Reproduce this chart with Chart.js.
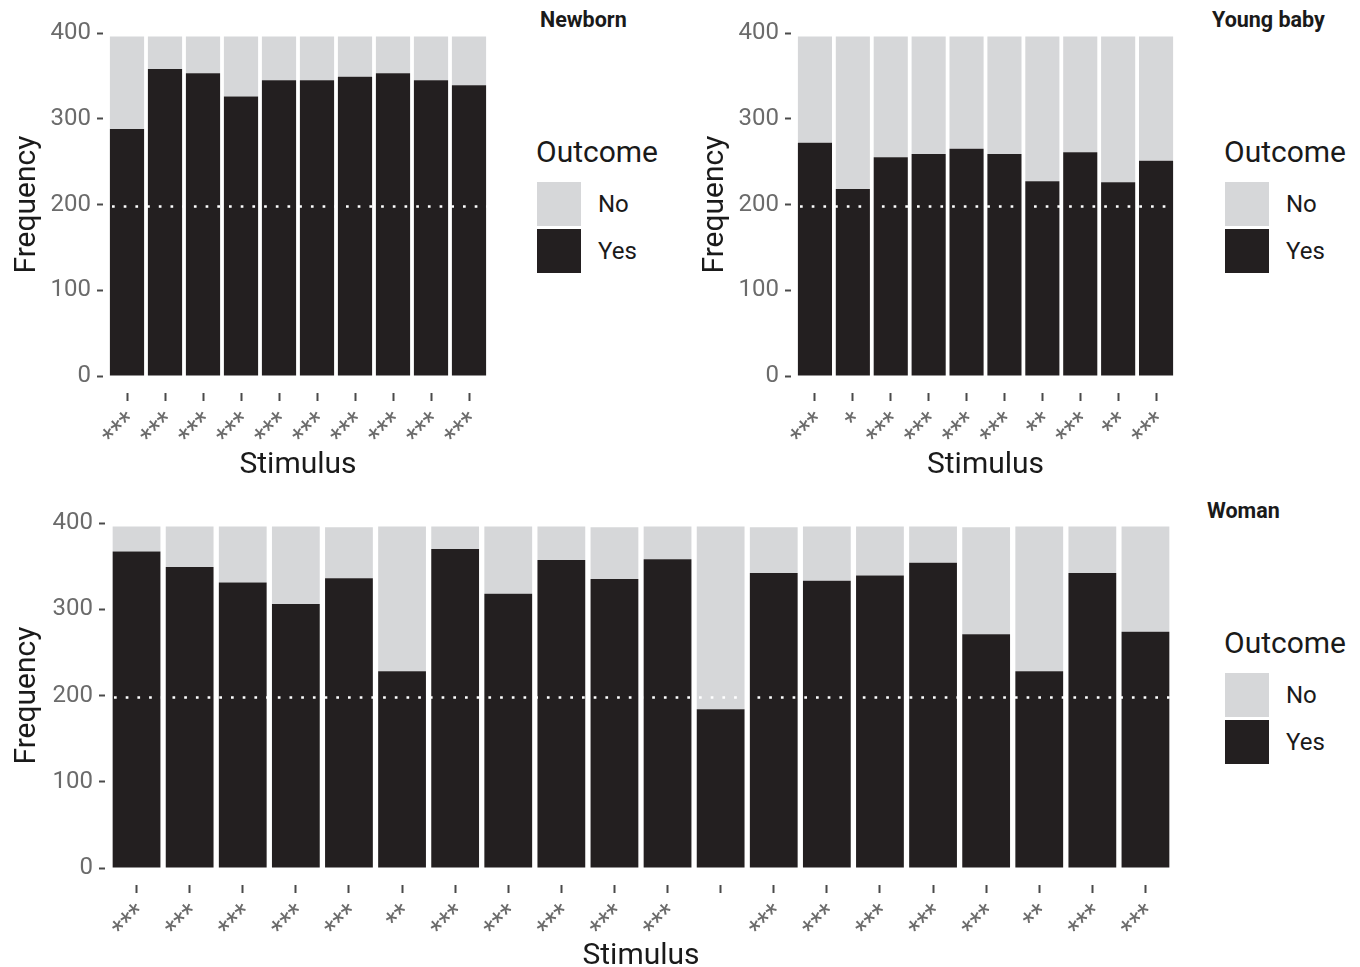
<!DOCTYPE html>
<html>
<head>
<meta charset="utf-8">
<script src="https://cdn.jsdelivr.net/npm/chart.js@4/dist/chart.umd.min.js"></script>
<style>
  html, body { margin: 0; padding: 0; background: #fff; overflow: hidden; }
  body { width: 1360px; height: 967px; position: relative; font-family: Roboto, "Noto Sans", sans-serif; }
  .box { position: absolute; }
  .txt { position: absolute; white-space: nowrap; color: #1a1a1a; }
  .ptitle { font-weight: bold; font-size: 21.5px; line-height: 21.5px; color: #1a1a1a; }
  .ltitle { font-size: 30px; line-height: 30px; }
  .llabel { font-size: 24px; line-height: 24px; }
  .key { position: absolute; width: 44px; height: 44px; }
</style>
</head>
<body>
<div class="box" id="c1box" style="left:0px;top:0px;width:510px;height:480px;"><canvas id="c1" width="510" height="480"></canvas></div>
<div class="box" id="c2box" style="left:688px;top:0px;width:500px;height:480px;"><canvas id="c2" width="500" height="480"></canvas></div>
<div class="box" id="c3box" style="left:0px;top:490px;width:1190px;height:482px;"><canvas id="c3" width="1190" height="482"></canvas></div>

<div class="txt ptitle" style="left:540px;top:9px;">Newborn</div>
<div class="txt ptitle" style="left:1212px;top:9px;">Young baby</div>
<div class="txt ptitle" style="left:1207px;top:500px;">Woman</div>

<div id="legends"></div>

<script>
// ---- data ----
const newbornLabels = ['***','***','***','***','***','***','***','***','***','***'];
const newbornYes = [288, 358, 353, 326, 345, 345, 349, 353, 345, 339];
const newbornNo  = [108,  38,  43,  70,  51,  51,  47,  43,  51,  57];

const youngLabels = ['***','*','***','***','***','***','**','***','**','***'];
const youngYes = [272, 218, 255, 259, 265, 259, 227, 261, 226, 251];
const youngNo  = [124, 178, 141, 137, 131, 137, 169, 135, 170, 145];

const womanLabels = ['***','***','***','***','***','**','***','***','***','***','***','','***','***','***','***','***','**','***','***'];
const womanYes = [367, 349, 331, 306, 336, 228, 370, 318, 357, 335, 358, 184, 342, 333, 339, 354, 271, 228, 342, 274];
const womanNo  = [ 29,  47,  65,  90,  59, 168,  26,  78,  39,  60,  38, 212,  53,  63,  57,  42, 124, 168,  54, 122];

const yTicks = [0, 100, 200, 300, 400];
const chanceLine = 198;
const legendTitle = 'Outcome';
const outcomeNames = ['No', 'Yes'];

// ---- styles ----
const YES_COLOR = '#231f20';
const NO_COLOR = '#d6d7d9';
const TICK_TEXT = '#6b6b6b';
const TICK_MARK = '#4a4a4a';
const TITLE_TEXT = '#1a1a1a';

const refLinePlugin = {
  id: 'refLine',
  afterDatasetsDraw(chart) {
    const {ctx, chartArea, scales} = chart;
    const y = Math.round(scales.y.getPixelForValue(chanceLine)) + 0.5;
    ctx.save();
    ctx.strokeStyle = '#ffffff';
    ctx.lineWidth = 2.7;
    ctx.setLineDash([2.7, 9]);
    ctx.beginPath();
    ctx.moveTo(chartArea.left + 4, y);
    ctx.lineTo(chartArea.right, y);
    ctx.stroke();
    ctx.restore();
  }
};

function makeChart(canvasId, labels, yes, no, geo) {
  const ctx = document.getElementById(canvasId);
  return new Chart(ctx, {
    type: 'bar',
    data: {
      labels: labels,
      datasets: [
        { label: outcomeNames[1], data: yes, backgroundColor: YES_COLOR, borderWidth: 0, barPercentage: 0.9, categoryPercentage: 1.0 },
        { label: outcomeNames[0], data: no, backgroundColor: NO_COLOR, borderWidth: 0, barPercentage: 0.9, categoryPercentage: 1.0 }
      ]
    },
    options: {
      responsive: false,
      animation: false,
      devicePixelRatio: 1,
      events: [],
      layout: { padding: { top: geo.plotTop, right: geo.padRight, left: 0, bottom: 0 } },
      plugins: { legend: { display: false }, tooltip: { enabled: false }, title: { display: false } },
      scales: {
        x: {
          stacked: true,
          offset: true,
          border: { display: false },
          grid: {
            display: true, drawOnChartArea: false, drawTicks: true, offset: false,
            tickLength: 25, tickColor: TICK_MARK, tickWidth: 2,
            tickBorderDash: [8, 17], tickBorderDashOffset: 8
          },
          ticks: {
            autoSkip: false, maxRotation: 45, minRotation: 45, padding: 5, labelOffset: 6,
            color: TICK_TEXT, font: { family: 'Roboto', size: 27 }
          },
          title: {
            display: true, text: 'Stimulus', color: TITLE_TEXT,
            font: { family: 'Roboto', size: 30, lineHeight: 1 },
            padding: { top: 0, bottom: geo.xTitlePad }
          },
          afterFit(s) { s.height = geo.xHeight; }
        },
        y: {
          stacked: true,
          min: 0, max: 400,
          border: { display: false },
          afterBuildTicks(s) { s.ticks = yTicks.map(v => ({ value: v })); },
          grid: {
            display: true, drawOnChartArea: false, drawTicks: true,
            tickLength: 11, tickColor: TICK_MARK, tickWidth: 2,
            tickBorderDash: [6, 5]
          },
          ticks: { padding: 6, color: TICK_TEXT, font: { family: 'Roboto', size: 24 } },
          title: {
            display: true, text: 'Frequency', color: TITLE_TEXT,
            font: { family: 'Roboto', size: 30, lineHeight: 1 },
            padding: { top: 12, bottom: 0 }
          },
          afterFit(s) { s.width = geo.yWidth; }
        }
      }
    },
    plugins: [refLinePlugin]
  });
}

// geometry (page coords -> local)
makeChart('c1', newbornLabels, newbornYes, newbornNo,
  { plotTop: 33, padRight: 510 - 488, yWidth: 108, xHeight: 480 - 376, xTitlePad: 0 });
makeChart('c2', youngLabels, youngYes, youngNo,
  { plotTop: 33, padRight: 500 - (1175 - 688), yWidth: 796 - 688, xHeight: 480 - 376, xTitlePad: 0 });
makeChart('c3', womanLabels, womanYes, womanNo,
  { plotTop: 33, padRight: 1190 - 1172, yWidth: 110, xHeight: 482 - (868 - 490), xTitlePad: 1 });

// legends
function addLegend(left, titleCenterY, keyTop) {
  const host = document.getElementById('legends');
  const t = document.createElement('div');
  t.className = 'txt ltitle';
  t.style.left = left + 'px';
  t.style.top = (titleCenterY - 15) + 'px';
  t.textContent = legendTitle;
  host.appendChild(t);
  const colors = [NO_COLOR, YES_COLOR];
  outcomeNames.forEach((name, i) => {
    const k = document.createElement('div');
    k.className = 'key';
    k.style.left = (left + 1) + 'px';
    k.style.top = (keyTop + i * 47) + 'px';
    k.style.background = colors[i];
    host.appendChild(k);
    const l = document.createElement('div');
    l.className = 'txt llabel';
    l.style.left = (left + 62) + 'px';
    l.style.top = (keyTop + i * 47 + 22 - 12) + 'px';
    l.textContent = name;
    host.appendChild(l);
  });
}
addLegend(536, 152, 182);
addLegend(1224, 152, 182);
addLegend(1224, 643, 673);
</script>
</body>
</html>
